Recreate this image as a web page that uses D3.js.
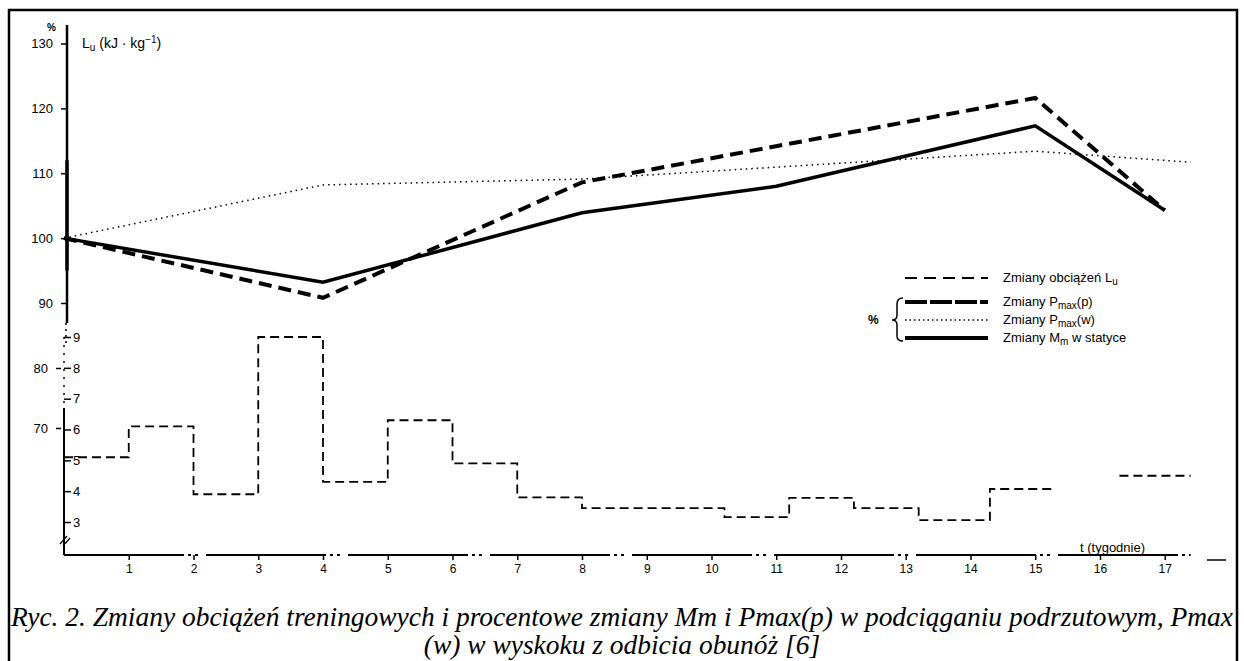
<!DOCTYPE html>
<html>
<head>
<meta charset="utf-8">
<script src="https://cdn.jsdelivr.net/npm/d3@7"></script>
<style>
  body { margin: 0; background: #fff; }
  svg { display: block; }
  .tick text { font-family: "Liberation Sans", Arial, sans-serif; fill: #000; }
</style>
</head>
<body>
<svg id="chart" width="1244" height="661"></svg>
<script>
// top panel: % changes, week -> value
var pmaxPWeeks = [0, 4, 8, 15, 17];
var pmaxPValues = [100, 90.8, 108.6, 121.6, 104.3];
var mmWeeks = [0, 4, 8, 11, 15, 17];
var mmValues = [100, 93.2, 103.9, 108.0, 117.3, 104.3];
var pmaxWWeeks = [0, 4, 8, 15, 17.4];
var pmaxWValues = [100, 108.2, 109.1, 113.4, 111.7];

// bottom panel: training load Lu, step per week interval
var stepFrom = [0, 1, 2, 3, 4, 5, 6, 7, 8, 10.2, 11.2, 12.2, 13.2, 14.3, 16.3];
var stepTo = [1, 2, 3, 4, 5, 6, 7, 8, 10.2, 11.2, 12.2, 13.2, 14.3, 15.3, 17.4];
var stepLoad = [5.1, 6.1, 3.9, 9.0, 4.3, 6.3, 4.9, 3.8, 3.45, 3.16, 3.78, 3.45, 3.06, 4.07, 4.5];

var weekTicks = d3.range(1, 18);
var pctTicks = [90, 100, 110, 120, 130];
var loadTicks = [3, 4, 5, 6, 7, 8, 9];
var leftLoadTicks = [70, 80];

var svg = d3.select("#chart");

var x = d3.scaleLinear().domain([0, 17]).range([64, 1164.75]);
var yTop = d3.scaleLinear().domain([90, 130]).range([303, 43.5]);
var yLoad = d3.scaleLinear().domain([3, 9]).range([522, 337]);
var yLoadLeft = d3.scaleLinear().domain([70, 80]).range([428, 368]);

// frame
svg.append("path")
  .attr("d", "M9,662V10H1237V662")
  .attr("fill", "none")
  .attr("stroke", "#000")
  .attr("stroke-width", 2.5);

// top axis
var topAxisX = x(0) + 3;
var gTop = svg.append("g")
  .attr("transform", "translate(" + topAxisX + ",0)")
  .call(d3.axisLeft(yTop).tickValues(pctTicks).tickSize(6).tickPadding(8));
gTop.select(".domain").remove();
gTop.selectAll(".tick line").attr("stroke-width", 1.5);
gTop.selectAll(".tick text").attr("font-size", 13);
svg.append("line")
  .attr("x1", topAxisX).attr("x2", topAxisX)
  .attr("y1", 25).attr("y2", 323)
  .attr("stroke", "#000").attr("stroke-width", 2.5);
svg.append("line")
  .attr("x1", topAxisX).attr("x2", topAxisX)
  .attr("y1", yTop(112)).attr("y2", yTop(95))
  .attr("stroke", "#000").attr("stroke-width", 3.5);
svg.append("line")
  .attr("x1", topAxisX - 1).attr("x2", topAxisX - 1)
  .attr("y1", 323).attr("y2", 345)
  .attr("stroke", "#000").attr("stroke-width", 1.5)
  .attr("stroke-dasharray", "2,4");
svg.append("text")
  .attr("x", 47).attr("y", 31)
  .attr("font-family", "Liberation Sans, Arial, sans-serif")
  .attr("font-size", 10).attr("font-weight", "bold")
  .text("%");

var unit = svg.append("text")
  .attr("x", 82).attr("y", 48)
  .attr("font-family", "Liberation Sans, Arial, sans-serif")
  .attr("font-size", 14);
unit.append("tspan").text("L");
unit.append("tspan").attr("font-size", 10).attr("dy", 3).text("u");
unit.append("tspan").attr("dy", -3).text(" (kJ · kg");
unit.append("tspan").attr("font-size", 10).attr("dy", -5).text("−1");
unit.append("tspan").attr("dy", 5).text(")");

// bottom panel axes
var gLoad = svg.append("g")
  .attr("transform", "translate(" + x(0) + ",0)")
  .call(d3.axisRight(yLoad).tickValues(loadTicks).tickFormat(d3.format("d")).tickSize(7).tickPadding(2));
gLoad.select(".domain").remove();
gLoad.selectAll(".tick line").attr("stroke-width", 1.5);
gLoad.selectAll(".tick text").attr("font-size", 13);

var gLoadLeft = svg.append("g")
  .attr("transform", "translate(" + (x(0) - 3) + ",0)")
  .call(d3.axisLeft(yLoadLeft).tickValues(leftLoadTicks).tickSize(5).tickPadding(8));
gLoadLeft.select(".domain").remove();
gLoadLeft.selectAll(".tick line").attr("stroke-width", 1.5);
gLoadLeft.selectAll(".tick text").attr("font-size", 13);

svg.append("line")
  .attr("x1", x(0)).attr("x2", x(0))
  .attr("y1", 408).attr("y2", 555)
  .attr("stroke", "#000").attr("stroke-width", 2);
svg.append("line")
  .attr("x1", x(0)).attr("x2", x(0))
  .attr("y1", 337).attr("y2", 408)
  .attr("stroke", "#000").attr("stroke-width", 1.5)
  .attr("stroke-dasharray", "2,6");
svg.append("path")
  .attr("d", "M" + (x(0) - 4) + ",544L" + (x(0) + 3) + ",536M" + (x(0) - 1) + ",546L" + (x(0) + 6) + ",538")
  .attr("stroke", "#000").attr("stroke-width", 1.2);

// x axis
var gX = svg.append("g")
  .attr("transform", "translate(0,555)")
  .call(d3.axisBottom(x).tickValues(weekTicks).tickSize(5).tickPadding(4));
gX.select(".domain").remove();
gX.selectAll(".tick line").attr("stroke-width", 1.5);
gX.selectAll(".tick text").attr("font-size", 12);
svg.append("line")
  .attr("x1", x(0)).attr("x2", x(17.4))
  .attr("y1", 555).attr("y2", 555)
  .attr("stroke", "#000").attr("stroke-width", 1.8)
  .attr("stroke-dasharray", "120,4,3,4,3,8");
svg.append("line")
  .attr("x1", 1207).attr("x2", 1226)
  .attr("y1", 560).attr("y2", 560)
  .attr("stroke", "#000").attr("stroke-width", 1.5);
svg.append("text")
  .attr("x", 1080).attr("y", 552)
  .attr("font-family", "Liberation Sans, Arial, sans-serif")
  .attr("font-size", 13)
  .text("t (tygodnie)");

// step line for training load
var stepPts = [];
stepFrom.forEach(function (f, i) {
  if (i > 0 && stepTo[i - 1] !== f) stepPts.push(null);
  stepPts.push([f, stepLoad[i]]);
  stepPts.push([stepTo[i], stepLoad[i]]);
});
var stepLine = d3.line()
  .defined(function (d) { return d !== null; })
  .x(function (d) { return x(d[0]); })
  .y(function (d) { return yLoad(d[1]); });
svg.append("path")
  .attr("d", stepLine(stepPts))
  .attr("fill", "none")
  .attr("stroke", "#000")
  .attr("stroke-width", 1.8)
  .attr("stroke-dasharray", "9,5");

// top panel lines
var line = d3.line()
  .x(function (d) { return x(d[0]); })
  .y(function (d) { return yTop(d[1]); });

function pairs(w, v) {
  return w.map(function (d, i) { return [d, v[i]]; });
}

svg.append("path")
  .attr("d", line(pairs(pmaxWWeeks, pmaxWValues)))
  .attr("fill", "none").attr("stroke", "#000")
  .attr("stroke-width", 1.5).attr("stroke-dasharray", "1.5,4");
svg.append("path")
  .attr("d", line(pairs(mmWeeks, mmValues)))
  .attr("fill", "none").attr("stroke", "#000")
  .attr("stroke-width", 3.5);
svg.append("path")
  .attr("d", line(pairs(pmaxPWeeks, pmaxPValues)))
  .attr("fill", "none").attr("stroke", "#000")
  .attr("stroke-width", 4).attr("stroke-dasharray", "13,7");

// legend
var legend = [
  { label: ["Zmiany obciążeń L", "u", ""], width: 1.8, dash: "12,7", y: 278 },
  { label: ["Zmiany P", "max", "(p)"], width: 4, dash: "22,3", y: 302 },
  { label: ["Zmiany P", "max", "(w)"], width: 1.5, dash: "1.5,3", y: 320 },
  { label: ["Zmiany M", "m", " w statyce"], width: 4, dash: null, y: 338 }
];
legend.forEach(function (d) {
  svg.append("line")
    .attr("x1", 905).attr("x2", 988)
    .attr("y1", d.y).attr("y2", d.y)
    .attr("stroke", "#000").attr("stroke-width", d.width)
    .attr("stroke-dasharray", d.dash);
  var t = svg.append("text")
    .attr("x", 1003).attr("y", d.y + 4)
    .attr("font-family", "Liberation Sans, Arial, sans-serif")
    .attr("font-size", 13);
  t.append("tspan").text(d.label[0]);
  t.append("tspan").attr("font-size", 10).attr("dy", 3).text(d.label[1]);
  t.append("tspan").attr("dy", -3).text(d.label[2]);
});
svg.append("path")
  .attr("d", "M903,298 Q897,298 897,304 L897,315 Q897,320 892,320 Q897,320 897,325 L897,336 Q897,341 903,341")
  .attr("fill", "none").attr("stroke", "#000").attr("stroke-width", 1.5);
svg.append("text")
  .attr("x", 868).attr("y", 324)
  .attr("font-family", "Liberation Sans, Arial, sans-serif")
  .attr("font-size", 12).attr("font-weight", "bold")
  .text("%");

// caption, squeezed like the condensed print face
var cap1 = svg.append("text")
  .attr("x", 11).attr("y", 626)
  .attr("font-family", "Liberation Serif, Times New Roman, serif")
  .attr("font-style", "italic")
  .attr("font-size", 27)
  .text("Ryc. 2. Zmiany obciążeń treningowych i procentowe zmiany Mm i Pmax(p) w podciąganiu podrzutowym, Pmax");
var k = 1222 / cap1.node().getComputedTextLength();
cap1.attr("textLength", 1222).attr("lengthAdjust", "spacingAndGlyphs");

var cap2 = svg.append("text")
  .attr("y", 654)
  .attr("font-family", "Liberation Serif, Times New Roman, serif")
  .attr("font-style", "italic")
  .attr("font-size", 27)
  .text("(w) w wyskoku z odbicia obunóż [6]");
var w2 = cap2.node().getComputedTextLength() * k;
cap2.attr("x", 622 - w2 / 2)
  .attr("textLength", w2)
  .attr("lengthAdjust", "spacingAndGlyphs");
</script>
</body>
</html>
